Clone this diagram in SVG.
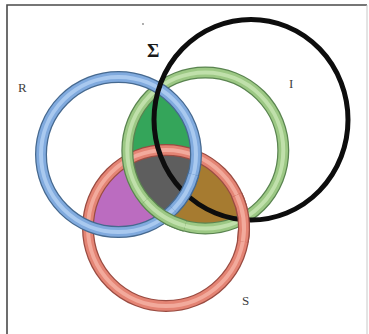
<svg xmlns="http://www.w3.org/2000/svg" width="369" height="334" viewBox="0 0 369 334">
<style>
  .lbl{font-family:"Liberation Serif","Times New Roman",serif;fill:#404040;font-size:13px}
  .sig{font-family:"Liberation Serif","Times New Roman",serif;fill:#1a1a1a;font-size:19px;font-weight:bold}
  .edge{fill:none;stroke-width:12}
  .body{fill:none;stroke-width:9.5}
  .hl{fill:none;stroke-width:4}
  .blue .edge{stroke:#46698f}.blue .body{stroke:#80aade}.blue .hl{stroke:#a9c9ef}
  .green .edge{stroke:#5a8450}.green .body{stroke:#9cc884}.green .hl{stroke:#c0e0ab}
  .red .edge{stroke:#9a4c42}.red .body{stroke:#e48474}.red .hl{stroke:#f2aa9c}
  .reg{stroke:none}
</style>
<defs>
  <clipPath id="cB"><circle cx="118.5" cy="154.5" r="77.5"/></clipPath>
  <clipPath id="cG"><circle cx="205.3" cy="150.5" r="78"/></clipPath>
  <clipPath id="cR"><circle cx="166" cy="228" r="78"/></clipPath>
</defs>
<rect x="0" y="0" width="369" height="334" fill="#ffffff"/>
<g id="frame" fill="none">
  <path d="M7,334 V5 H367" stroke="#4a4a4a" stroke-width="1.6"/>
  <path d="M367,5 V334" stroke="#c8c8c8" stroke-width="1"/>
</g>
<circle cx="143" cy="24" r="0.9" fill="#888"/>
<g id="regions">
  <g clip-path="url(#cB)"><circle class="reg" cx="205.3" cy="150.5" r="78" fill="#34a55a"/></g>
  <g clip-path="url(#cB)"><circle class="reg" cx="166" cy="228" r="78" fill="#bb6cc0"/></g>
  <g clip-path="url(#cG)"><circle class="reg" cx="166" cy="228" r="78" fill="#a67b30"/></g>
  <g clip-path="url(#cB)"><g clip-path="url(#cG)"><circle class="reg" cx="166" cy="228" r="78" fill="#5e5e5e"/></g></g>
</g>
<g id="node-S" class="red">
  <circle class="edge" cx="166" cy="228" r="78"/>
  <circle class="body" cx="166" cy="228" r="78"/>
  <circle class="hl" cx="166" cy="228" r="78"/>
  <text class="lbl" x="242" y="305">S</text>
</g>
<g id="node-I" class="green">
  <circle class="edge" cx="205.3" cy="150.5" r="78"/>
  <circle class="body" cx="205.3" cy="150.5" r="78"/>
  <circle class="hl" cx="205.3" cy="150.5" r="78"/>
  <text class="lbl" x="289" y="88">I</text>
</g>
<g id="node-R" class="blue">
  <circle class="edge" cx="118.5" cy="154.5" r="77.5"/>
  <circle class="body" cx="118.5" cy="154.5" r="77.5"/>
  <circle class="hl" cx="118.5" cy="154.5" r="77.5"/>
  <text class="lbl" x="18" y="92">R</text>
</g>
<g id="node-Sigma">
  <ellipse cx="251" cy="119.7" rx="97" ry="100.3" fill="none" stroke="#0d0d0d" stroke-width="5"/>
  <text class="sig" x="147" y="57">Σ</text>
</g>
<g id="crossings">
  <g class="blue">
    <path class="edge" d="M193.36,174.56 A77.5,77.5 0 0 1 173.3,209.3"/>
    <path class="body" d="M193.36,174.56 A77.5,77.5 0 0 1 173.3,209.3"/>
    <path class="hl" d="M193.36,174.56 A77.5,77.5 0 0 1 173.3,209.3"/>
  </g>
  <g class="green">
    <path class="edge" d="M185.11,225.84 A78,78 0 0 1 145.55,200.64"/>
    <path class="body" d="M185.11,225.84 A78,78 0 0 1 145.55,200.64"/>
    <path class="hl" d="M185.11,225.84 A78,78 0 0 1 145.55,200.64"/>
  </g>
  <g class="red">
    <path class="edge" d="M236.69,195.04 A78,78 0 0 1 242.82,241.54"/>
    <path class="body" d="M236.69,195.04 A78,78 0 0 1 242.82,241.54"/>
    <path class="hl" d="M236.69,195.04 A78,78 0 0 1 242.82,241.54"/>
  </g>
</g>
</svg>
